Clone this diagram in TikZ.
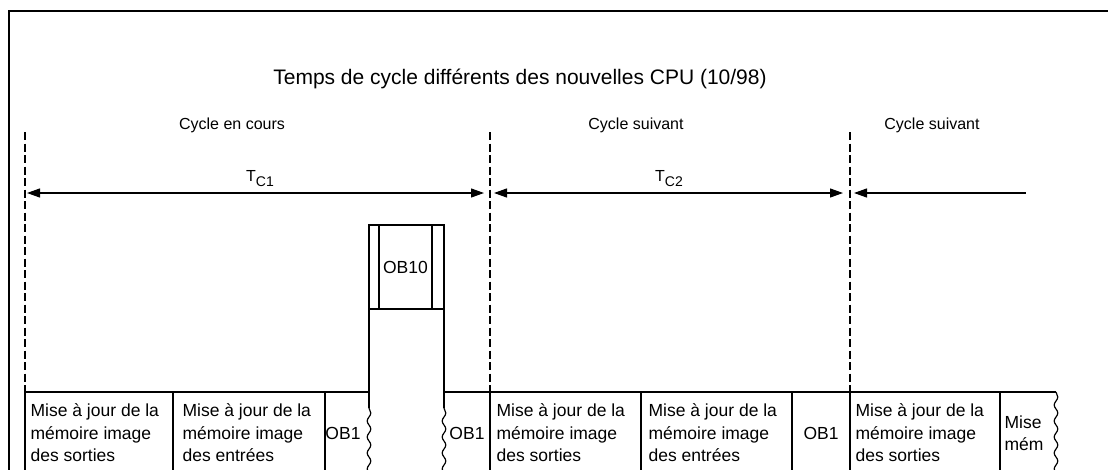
\documentclass[tikz,border=0pt]{standalone}
\usepackage{fontspec}
\setmainfont{Liberation Sans}
\usetikzlibrary{arrows.meta,positioning,decorations.pathmorphing}

\tikzset{
  guide/.style={dash pattern=on 8pt off 3.5pt, line width=1.1pt},
  cutline/.style={decorate, decoration={snake, segment length=16pt, amplitude=1.8pt}},
  period/.style={line width=1.2pt, {Triangle[length=13pt,width=9pt]}-{Triangle[length=13pt,width=9pt]}},
  boxtext/.style={font=\fontsize{17.5}{22.5}\selectfont, align=left, inner sep=0pt},
  cycletext/.style={font=\fontsize{16}{19}\selectfont, inner sep=0pt},
}

\begin{document}
\begin{tikzpicture}[x=1pt, y=-1pt, line width=1.2pt]
  \useasboundingbox (0,0) rectangle (1108,469);
  % frame open at right and bottom
  \draw[line width=1.6pt] (9,480) -- (9,11) -- (1115,11);
  \node[font=\fontsize{21}{25}\selectfont, inner sep=0pt, anchor=base] (title) at (520,84)
    {Temps de cycle différents des nouvelles CPU (10/98)};

  \foreach \x/\l [count=\i] in {232/{Cycle en cours}, 636/{Cycle suivant}, 932/{Cycle suivant}}{
    \node[cycletext, anchor=base] (cycle\i) at (\x,129) {\l};
  }
  \foreach \x in {25,490,850}{
    \draw[guide] (\x,132) -- (\x,475);
  }

  % cycle times
  \coordinate (t1a) at (27,193);  \coordinate (t1b) at (484,193);
  \coordinate (t2a) at (494,193); \coordinate (t2b) at (843,193);
  \coordinate (t3a) at (854,193); \coordinate (t3b) at (1026,193);
  \draw[period] (t1a) -- (t1b);
  \draw[period] (t2a) -- (t2b);
  \draw[line width=1.2pt, {Triangle[length=13pt,width=9pt]}-] (t3a) -- (t3b);
  \node[cycletext, anchor=base] (tc1) at (260,181) {T\raisebox{-5pt}{\fontsize{14}{14}\selectfont C1}};
  \node[cycletext, anchor=base] (tc2) at (669,181) {T\raisebox{-5pt}{\fontsize{14}{14}\selectfont C2}};

  % OB10 column
  \draw (369,225) rectangle (444,309);
  \draw (379,225) -- (379,309);
  \draw (432,225) -- (432,309);
  \node[boxtext] (ob10) at (405.5,267) {OB10};
  \foreach \x in {369,444}{
    \draw (\x,309) -- (\x,408);
    \draw[cutline] (\x,408) -- (\x,475);
  }

  % bottom row
  \draw (25,392) -- (369,392);
  \draw (444,392) -- (1056,392);
  \foreach \x in {25,325,490,792,850,1000}{
    \draw (\x,392) -- (\x,475);
  }
  \foreach \x in {173,641}{
    \draw[line width=2.2pt] (\x,391) -- (\x,475);
  }
  \draw[cutline] (1056,392) -- (1056,475);

  \foreach \x/\t [count=\i] in {30/sorties, 182/entrées, 496/sorties, 648/entrées, 855/sorties}{
    \node[boxtext, anchor=west] (upd\i) at (\x,433) {Mise à jour de la\\mémoire image\\des \t};
  }
  \node[boxtext, anchor=west] (upd6) at (1004,433) {Mise\\mém};
  \foreach \x [count=\i] in {343,467,821}{
    \node[boxtext] (ob\i) at (\x,433.5) {OB1};
  }
\end{tikzpicture}
\end{document}
